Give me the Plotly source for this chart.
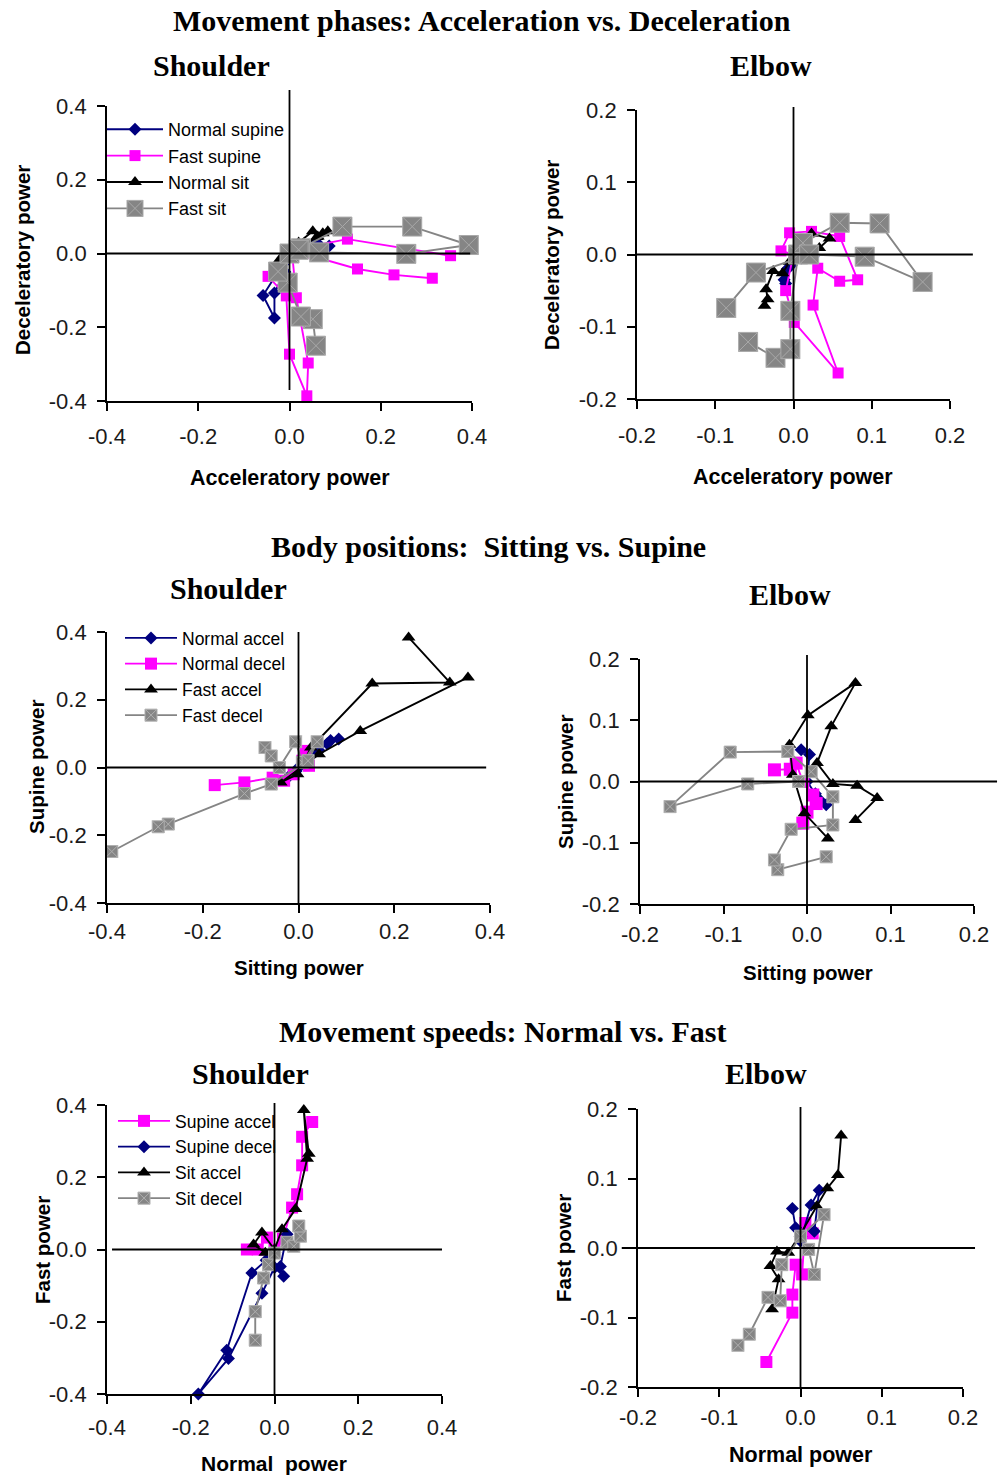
import plotly.graph_objects as go

W, H = 1003, 1475

# ---------------- DATA ----------------
shoulder_ticks = [-0.4, -0.2, 0.0, 0.2, 0.4]
shoulder_labels = ["-0.4", "-0.2", "0.0", "0.2", "0.4"]
elbow_ticks = [-0.2, -0.1, 0.0, 0.1, 0.2]
elbow_labels = ["-0.2", "-0.1", "0.0", "0.1", "0.2"]

# Panel 1: Shoulder, accelerating vs decelerating power
p1_normal_supine_x = [0.0, -0.015, -0.058, -0.033, -0.033, -0.01, 0.0, 0.03, 0.06, 0.087, 0.05, 0.01]
p1_normal_supine_y = [0.0, -0.03, -0.114, -0.175, -0.107, -0.05, 0.0, 0.02, 0.03, 0.02, 0.02, 0.005]
p1_fast_supine_x = [0.313, 0.229, 0.149, 0.03, 0.0, -0.047, -0.007, 0.0, 0.038, 0.041, 0.015, 0.005, 0.127, 0.353]
p1_fast_supine_y = [-0.067, -0.058, -0.042, 0.0, 0.0, -0.062, -0.115, -0.273, -0.386, -0.297, -0.12, 0.01, 0.039, -0.006]
p1_normal_sit_x = [-0.022, -0.007, 0.02, 0.051, 0.062, 0.073, 0.084, 0.06, 0.03]
p1_normal_sit_y = [-0.017, -0.008, 0.03, 0.06, 0.046, 0.055, 0.06, 0.045, 0.02]
p1_fast_sit_x = [0.058, 0.051, 0.025, -0.004, -0.025, 0.0, 0.025, 0.116, 0.269, 0.393, 0.256, 0.065, 0.02]
p1_fast_sit_y = [-0.25, -0.178, -0.171, -0.079, -0.049, 0.0, 0.014, 0.073, 0.073, 0.023, -0.001, 0.003, 0.01]

# Panel 2: Elbow, accelerating vs decelerating power
p2_normal_supine_x = [0.0, -0.008, -0.012, -0.01, -0.003, 0.01, 0.025, 0.02, 0.005]
p2_normal_supine_y = [0.0, -0.02, -0.035, -0.04, -0.015, -0.005, -0.003, 0.0, 0.005]
p2_fast_supine_x = [0.0, -0.016, -0.005, 0.023, 0.059, 0.082, 0.059, 0.031, 0.025, 0.057, 0.001, -0.01, 0.0]
p2_fast_supine_y = [0.0, 0.005, 0.030, 0.032, 0.025, -0.035, -0.037, -0.019, -0.07, -0.164, -0.094, -0.05, 0.0]
p2_normal_sit_x = [-0.037, -0.033, -0.035, -0.026, -0.014, -0.005, 0.01, 0.033, 0.046, 0.023]
p2_normal_sit_y = [-0.071, -0.062, -0.048, -0.023, -0.026, -0.01, 0.005, 0.009, 0.022, 0.029]
p2_fast_sit_x = [-0.058, -0.023, -0.004, -0.004, 0.006, 0.012, 0.059, 0.11, 0.165, 0.091, 0.02, -0.048, -0.086]
p2_fast_sit_y = [-0.121, -0.143, -0.131, -0.078, 0.0, 0.016, 0.044, 0.043, -0.038, -0.003, 0.0, -0.025, -0.074]

# Panel 3: Shoulder, sitting vs supine power
p3_normal_accel_x = [-0.019, -0.005, 0.0, 0.02, 0.043, 0.067, 0.084, 0.06, 0.03]
p3_normal_accel_y = [-0.025, -0.01, 0.0, 0.02, 0.05, 0.08, 0.084, 0.07, 0.04]
p3_normal_decel_x = [-0.175, -0.113, -0.054, -0.03, -0.01, 0.008, 0.015, 0.022]
p3_normal_decel_y = [-0.052, -0.044, -0.03, -0.039, -0.02, 0.02, 0.049, 0.005]
p3_fast_accel_x = [0.354, 0.129, 0.043, -0.037, -0.002, 0.026, 0.154, 0.316, 0.23]
p3_fast_accel_y = [0.266, 0.108, 0.039, -0.044, -0.02, 0.059, 0.248, 0.251, 0.384]
p3_fast_decel_x = [-0.07, -0.057, -0.04, -0.006, 0.008, 0.039, 0.02, -0.057, -0.113, -0.272, -0.293, -0.39]
p3_fast_decel_y = [0.059, 0.034, 0.0, 0.076, 0.015, 0.076, 0.02, -0.049, -0.077, -0.167, -0.175, -0.248]

# Panel 4: Elbow, sitting vs supine power
p4_normal_accel_x = [-0.007, 0.003, 0.0, 0.01, 0.023, 0.015]
p4_normal_accel_y = [0.052, 0.044, 0.0, -0.02, -0.038, -0.03]
p4_normal_decel_x = [-0.039, -0.02, -0.013, -0.005, 0.007, 0.011, 0.0, -0.005]
p4_normal_decel_y = [0.019, 0.02, 0.03, 0.0, -0.022, -0.036, -0.05, -0.068]
p4_fast_accel_x = [0.025, -0.003, -0.017, -0.021, 0.001, 0.058, 0.029, 0.012, 0.031, 0.06, 0.084, 0.058]
p4_fast_accel_y = [-0.093, -0.052, 0.011, 0.06, 0.108, 0.161, 0.09, 0.03, -0.004, -0.007, -0.027, -0.063]
p4_fast_decel_x = [0.023, -0.035, -0.039, -0.019, 0.031, 0.031, 0.005, -0.023, -0.092, -0.164, -0.071, -0.01]
p4_fast_decel_y = [-0.123, -0.144, -0.128, -0.078, -0.071, -0.025, 0.016, 0.049, 0.048, -0.041, -0.004, 0.0]

# Panel 5: Shoulder, normal vs fast power
p5_supine_accel_x = [-0.066, -0.04, -0.018, 0.0, 0.02, 0.042, 0.054, 0.066, 0.066, 0.09]
p5_supine_accel_y = [0.0, 0.0, 0.033, 0.0, 0.03, 0.116, 0.153, 0.233, 0.312, 0.353]
p5_supine_decel_x = [0.03, 0.014, 0.022, 0.0, -0.03, -0.11, -0.182, -0.114, -0.054, -0.02]
p5_supine_decel_y = [0.042, -0.047, -0.074, -0.05, -0.121, -0.302, -0.4, -0.279, -0.065, -0.03]
p5_sit_accel_x = [-0.022, -0.05, -0.03, 0.0, 0.018, 0.05, 0.078, 0.07, 0.082]
p5_sit_accel_y = [-0.009, 0.014, 0.047, 0.0, 0.056, 0.112, 0.251, 0.386, 0.265]
p5_sit_decel_x = [-0.046, -0.046, -0.026, -0.014, 0.0, 0.03, 0.046, 0.062, 0.058]
p5_sit_decel_y = [-0.251, -0.172, -0.079, -0.042, -0.01, 0.02, 0.009, 0.037, 0.065]

# Panel 6: Elbow, normal vs fast power
p6_supine_accel_x = [-0.042, -0.01, -0.01, -0.006, 0.002, 0.006, 0.015]
p6_supine_accel_y = [-0.164, -0.093, -0.067, -0.024, -0.038, 0.036, 0.021]
p6_supine_decel_x = [-0.01, -0.006, 0.0, 0.013, 0.023, 0.017]
p6_supine_decel_y = [0.057, 0.029, 0.01, 0.062, 0.083, 0.024]
p6_sit_accel_x = [-0.035, -0.027, -0.037, -0.029, -0.015, 0.0, 0.02, 0.033, 0.046, 0.05]
p6_sit_accel_y = [-0.088, -0.045, -0.026, -0.005, -0.007, 0.02, 0.06, 0.086, 0.105, 0.162]
p6_sit_decel_x = [-0.077, -0.063, -0.04, -0.025, -0.023, 0.0, 0.029, 0.017, 0.01]
p6_sit_decel_y = [-0.14, -0.124, -0.071, -0.076, -0.024, 0.017, 0.048, -0.038, -0.002]

# ---------------- STYLE ----------------
NAVY = "#00007F"
MAG = "#FF00FF"
BLK = "#000000"
GRY = "#858585"
SANS = "Liberation Sans, Arial, sans-serif"
SERIF = "Liberation Serif, Times New Roman, serif"

STY = {
    "navy": dict(color=NAVY, symbol="diamond", size=10, line=dict(width=0)),
    "mag": dict(color=MAG, symbol="square", size=11, line=dict(width=0)),
    "blk": dict(color=BLK, symbol="triangle-up", size=12, line=dict(width=0)),
    "gry_big": dict(color=GRY, symbol="square-x", size=19, line=dict(color="#a9a9a9", width=1)),
    "gry": dict(color=GRY, symbol="square-x", size=12, line=dict(color="#b0b0b0", width=1)),
}
LINEC = {"navy": NAVY, "mag": MAG, "blk": BLK, "gry_big": GRY, "gry": GRY}

fig = go.Figure()


def add(i, x, y, name, sty, legend=None, msize=None):
    mk = dict(STY[sty])
    if msize:
        mk["size"] = msize
    sfx = "" if i == 1 else str(i)
    fig.add_trace(go.Scatter(
        x=x, y=y, mode="lines+markers", name=name,
        line=dict(color=LINEC[sty], width=1.9), marker=mk,
        xaxis="x" + sfx, yaxis="y" + sfx, cliponaxis=False,
        showlegend=legend is not None, legend=legend if legend else "legend",
    ))


add(1, p1_normal_supine_x, p1_normal_supine_y, "Normal supine", "navy", "legend")
add(1, p1_fast_supine_x, p1_fast_supine_y, "Fast supine", "mag", "legend")
add(1, p1_normal_sit_x, p1_normal_sit_y, "Normal sit", "blk", "legend")
add(1, p1_fast_sit_x, p1_fast_sit_y, "Fast sit", "gry_big", "legend")

add(2, p2_normal_supine_x, p2_normal_supine_y, "Normal supine", "navy")
add(2, p2_fast_supine_x, p2_fast_supine_y, "Fast supine", "mag")
add(2, p2_normal_sit_x, p2_normal_sit_y, "Normal sit", "blk")
add(2, p2_fast_sit_x, p2_fast_sit_y, "Fast sit", "gry_big")

add(3, p3_normal_accel_x, p3_normal_accel_y, "Normal accel", "navy", "legend2")
add(3, p3_normal_decel_x, p3_normal_decel_y, "Normal decel", "mag", "legend2", 12)
add(3, p3_fast_accel_x, p3_fast_accel_y, "Fast accel", "blk", "legend2")
add(3, p3_fast_decel_x, p3_fast_decel_y, "Fast decel", "gry", "legend2")

add(4, p4_normal_accel_x, p4_normal_accel_y, "Normal accel", "navy")
add(4, p4_normal_decel_x, p4_normal_decel_y, "Normal decel", "mag", None, 13)
add(4, p4_fast_accel_x, p4_fast_accel_y, "Fast accel", "blk")
add(4, p4_fast_decel_x, p4_fast_decel_y, "Fast decel", "gry")

add(5, p5_supine_accel_x, p5_supine_accel_y, "Supine accel", "mag", "legend3", 12)
add(5, p5_supine_decel_x, p5_supine_decel_y, "Supine decel", "navy", "legend3")
add(5, p5_sit_accel_x, p5_sit_accel_y, "Sit accel", "blk", "legend3")
add(5, p5_sit_decel_x, p5_sit_decel_y, "Sit decel", "gry", "legend3")

add(6, p6_supine_accel_x, p6_supine_accel_y, "Supine accel", "mag", None, 12)
add(6, p6_supine_decel_x, p6_supine_decel_y, "Supine decel", "navy")
add(6, p6_sit_accel_x, p6_sit_accel_y, "Sit accel", "blk")
add(6, p6_sit_decel_x, p6_sit_decel_y, "Sit decel", "gry")

# ---------------- LAYOUT ----------------
# pixel boxes of plot areas: (left, right, top, bottom)
boxes = [(107, 472, 106, 401), (637, 950, 110, 399), (107, 490, 632, 903),
         (640, 974, 659, 904), (107, 442, 1105, 1394), (638, 963, 1109, 1387)]
xstand = [7, 8, 0, 2, 5, 2]
layout = {}
for i, (l, r, t, b) in enumerate(boxes, start=1):
    sfx = "" if i == 1 else str(i)
    shoulder = i in (1, 3, 5)
    tv = shoulder_ticks if shoulder else elbow_ticks
    tt = shoulder_labels if shoulder else elbow_labels
    rng = [-0.4, 0.4] if shoulder else [-0.2, 0.2]
    common = dict(range=rng, tickvals=tv, ticktext=tt, showgrid=False, zeroline=False,
                  showline=True, linecolor="black", linewidth=1.8, ticks="outside",
                  ticklen=8, tickwidth=1.8, tickcolor="black", automargin=False,
                  tickfont=dict(family=SANS, size=22, color="#1a1a1a"), fixedrange=True)
    layout["xaxis" + sfx] = dict(common, domain=[l / W, r / W], anchor="y" + sfx,
                                 ticklabelstandoff=xstand[i - 1])
    layout["yaxis" + sfx] = dict(common, domain=[1 - b / H, 1 - t / H], anchor="x" + sfx,
                                 ticklabelstandoff=6)

fig.update_layout(**layout)

# zero lines (vertical x=0 and horizontal y=0) in each panel
zl = [((0.037, 1.054), (0.0, 0.995)), ((0.0, 1.01), (0.0, 1.073)), ((0.0, 1.0), (0.0, 0.99)),
      ((0.0, 1.016), (0.0, 1.069)), ((0.0, 1.007), (0.015, 1.0)), ((0.0, 1.007), (-0.05, 1.037))]
shapes = []
for i, ((vy0, vy1), (hx0, hx1)) in enumerate(zl, start=1):
    sfx = "" if i == 1 else str(i)
    shapes.append(dict(type="line", xref="x" + sfx, yref="y" + sfx + " domain", x0=0, x1=0,
                       y0=vy0, y1=vy1, line=dict(color="black", width=1.8)))
    shapes.append(dict(type="line", xref="x" + sfx + " domain", yref="y" + sfx, x0=hx0, x1=hx1,
                       y0=0, y1=0, line=dict(color="black", width=1.8)))
fig.update_layout(shapes=shapes)


def ann(text, px, py, size, family, bold=True, angle=0):
    t = "<b>" + text + "</b>" if bold else text
    return dict(text=t, x=px / W, y=1 - py / H, xref="paper", yref="paper", showarrow=False,
                xanchor="center", yanchor="middle", textangle=angle,
                font=dict(family=family, size=size, color="black"))


anns = [
    ann("Movement phases: Acceleration vs. Deceleration", 482, 20, 30, SERIF),
    ann("Shoulder", 211, 66, 30, SERIF), ann("Elbow", 771, 66, 30, SERIF),
    ann("Body positions:&nbsp; Sitting vs. Supine", 488, 547, 30, SERIF),
    ann("Shoulder", 228, 589, 30, SERIF), ann("Elbow", 790, 594, 30, SERIF),
    ann("Movement speeds: Normal vs. Fast", 502, 1031, 30, SERIF),
    ann("Shoulder", 250, 1073, 30, SERIF), ann("Elbow", 766, 1073, 30, SERIF),
    ann("Acceleratory power", 290, 478, 21.5, SANS), ann("Deceleratory power", 22, 260, 20.5, SANS, angle=-90),
    ann("Acceleratory power", 793, 477, 21.5, SANS), ann("Deceleratory power", 552, 255, 20.5, SANS, angle=-90),
    ann("Sitting power", 299, 967, 20.5, SANS), ann("Supine power", 36, 767, 20.5, SANS, angle=-90),
    ann("Sitting power", 808, 972, 20.5, SANS), ann("Supine power", 565, 782, 20.5, SANS, angle=-90),
    ann("Normal&nbsp; power", 274, 1463, 21, SANS), ann("Fast power", 42, 1250, 20.5, SANS, angle=-90),
    ann("Normal power", 801, 1455, 21.5, SANS), ann("Fast power", 563, 1248, 20.5, SANS, angle=-90),
]

leg_common = dict(bgcolor="rgba(0,0,0,0)", borderwidth=0, xanchor="left", yanchor="top",
                  tracegroupgap=0, traceorder="normal")
fig.update_layout(
    annotations=anns,
    width=W, height=H, margin=dict(l=0, r=0, t=0, b=0, pad=0, autoexpand=False),
    paper_bgcolor="white", plot_bgcolor="white",
    legend=dict(leg_common, x=102 / W, y=1 - 111 / H, itemwidth=56,
                font=dict(family=SANS, size=18, color="black")),
    legend2=dict(leg_common, x=120 / W, y=1 - 620 / H, itemwidth=52,
                 font=dict(family=SANS, size=17.5, color="black")),
    legend3=dict(leg_common, x=113 / W, y=1 - 1103 / H, itemwidth=52,
                 font=dict(family=SANS, size=17.5, color="black")),
)

fig.write_html("out.html", config={"displayModeBar": False},
               post_script="document.body.style.margin='0px';")
